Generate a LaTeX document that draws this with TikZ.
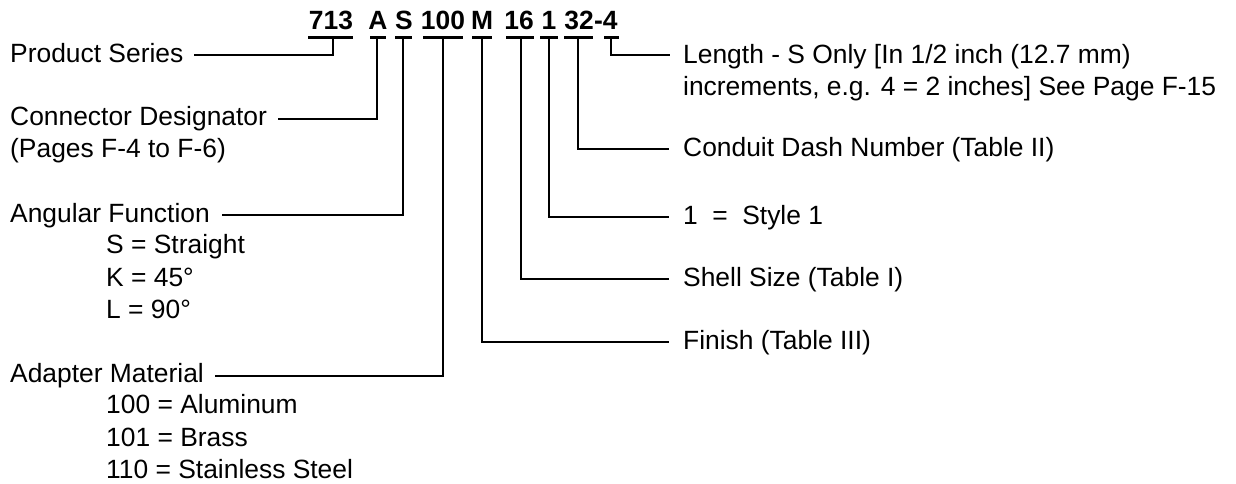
\documentclass[tikz,border=0pt]{standalone}
\usepackage{fontspec}
\setmainfont{Liberation Sans}
\begin{document}
\begin{tikzpicture}[x=1pt,y=-1pt,
  lbl/.style={anchor=base west,inner sep=0pt,font=\fontsize{26.4}{32}\selectfont},
  code/.style={anchor=base,inner sep=0pt,font=\fontsize{26.4}{32}\selectfont\bfseries},
  conn/.style={line width=2.3pt,line cap=butt,line join=miter},
  bar/.style={line width=2.3pt}]
\useasboundingbox (0,0) rectangle (1236,483);
% code tokens
\node[code] (c713) at (331,29) {713};
\node[code] (cA) at (378,29) {A};
\node[code] (cS) at (404,29) {S};
\node[code] (c100) at (443,29) {100};
\node[code] (cM) at (482,29) {M};
\node[code] (c16) at (519,29) {16};
\node[code] (c1) at (549,29) {1};
\node[code] (c32) at (579,29) {32};
\node[code,anchor=base west] (c4) at (c32.base east) {-4};
% tap coordinates (under each token)
\coordinate (t713) at (333,37.5);
\coordinate (tA) at (377,37.5);
\coordinate (tS) at (403,37.5);
\coordinate (t100) at (443,37.5);
\coordinate (tM) at (482,37.5);
\coordinate (t16) at (521,37.5);
\coordinate (t1) at (549,37.5);
\coordinate (t32) at (578,37.5);
\coordinate (t4) at (611,37.5);
% bars
\draw[bar] (308,37.5) -- (353,37.5);
\draw[bar] (370,37.5) -- (386,37.5);
\draw[bar] (395,37.5) -- (412,37.5);
\draw[bar] (423,37.5) -- (463,37.5);
\draw[bar] (472,37.5) -- (492,37.5);
\draw[bar] (506,37.5) -- (534,37.5);
\draw[bar] (540,37.5) -- (558,37.5);
\draw[bar] (564,37.5) -- (593,37.5);
\draw[bar] (604,37.5) -- (619,37.5);
% left labels
\node[lbl] (ps) at (10,62) {Product Series};
\node[lbl] (cd) at (10,125) {Connector Designator};
\node[lbl] (cdp) at (10,157) {(Pages F-4 to F-6)};
\node[lbl] (af) at (10,222) {Angular Function};
\node[lbl] (afS) at (106,253) {S = Straight};
\node[lbl] (afK) at (106,286) {K = 45°};
\node[lbl] (afL) at (106,318) {L = 90°};
\node[lbl] (am) at (10,382) {Adapter Material};
\node[lbl] (am1) at (106,413) {100 = Aluminum};
\node[lbl] (am2) at (106,446) {101 = Brass};
\node[lbl] (am3) at (106,478) {110 = Stainless Steel};
% right labels
\node[lbl] (len) at (683,63) {Length - S Only [In 1/2 inch (12.7 mm)};
\node[lbl] (len2) at (683,95) {increments, e.g. 4 = 2 inches] See Page F-15};
\node[lbl] (cdn) at (683,156) {Conduit Dash Number (Table II)};
\node[lbl] (sty) at (683,224) {1\hspace{0.55em}=\hspace{0.55em}Style 1};
\node[lbl] (ss) at (683,286) {Shell Size (Table I)};
\node[lbl] (fin) at (683,349) {Finish (Table III)};
% connectors left
\draw[conn] (t713) |- ([shift={(10,-7)}]ps.base east);
\draw[conn] (tA) |- ([shift={(11,-6)}]cd.base east);
\draw[conn] (tS) |- ([shift={(12,-7)}]af.base east);
\draw[conn] (t100) |- ([shift={(11,-6)}]am.base east);
% connectors right
\draw[conn] (t4) |- ([shift={(-13,-8)}]len.base west);
\draw[conn] (t32) |- ([shift={(-14,-7)}]cdn.base west);
\draw[conn] (t1) |- ([shift={(-14,-7)}]sty.base west);
\draw[conn] (t16) |- ([shift={(-14,-7)}]ss.base west);
\draw[conn] (tM) |- ([shift={(-14,-7)}]fin.base west);
\end{tikzpicture}
\end{document}
